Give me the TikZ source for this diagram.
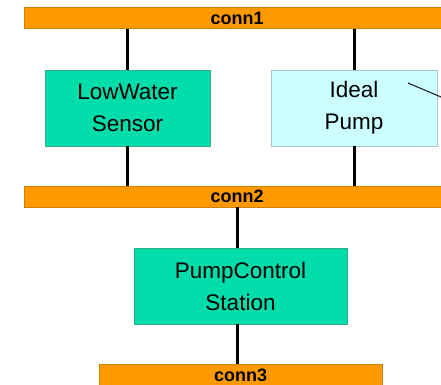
\documentclass[tikz,border=0pt]{standalone}
\usepackage{fontspec}
\setmainfont{Liberation Sans}
\usepackage{xcolor}
\usetikzlibrary{positioning}
\definecolor{busorange}{HTML}{FF9900}
\definecolor{busedge}{HTML}{D08000}
\definecolor{mint}{HTML}{00DDAA}
\definecolor{mintedge}{HTML}{33AA88}
\definecolor{paleblue}{HTML}{CCFFFF}
\definecolor{paleedge}{HTML}{A8C4CC}

\begin{document}
\begin{tikzpicture}[
  x=1pt, y=-1pt,
  bus/.style={rectangle, draw=busedge, fill=busorange, minimum width=426pt, minimum height=21pt, inner sep=0pt, font=\fontsize{18}{18}\selectfont\bfseries},
  block/.style={rectangle, draw=mintedge, fill=mint, minimum height=76pt, align=center, font=\fontsize{22.5}{32}\selectfont},
  wire/.style={line width=3pt, draw=black}
]
\useasboundingbox (0,0) rectangle (441,384);
\node[bus] (conn1) at (237,18) {conn1};
\node[block, minimum width=165pt] (sensor) at (127.5,108) {LowWater\\Sensor};
\node[block, minimum width=166pt, fill=paleblue, draw=paleedge] (pump) at (354,108) {Ideal\\Pump};
\node[bus] (conn2) at (237,196.5) {conn2};
\node[block, minimum width=213pt] (station) at (240.5,286) {PumpControl\\Station};
\node[bus, minimum width=283pt] (conn3) at (240.5,375) {conn3};
\coordinate (tail) at (408,83);
\coordinate (away) at (460,105);
\draw[wire] (conn1.south -| sensor) -- (sensor.north);
\draw[wire] (conn1.south -| pump) -- (pump.north);
\draw[wire] (sensor.south) -- (conn2.north -| sensor);
\draw[wire] (pump.south) -- (conn2.north -| pump);
\draw[wire] (conn2.south) -- (station.north -| conn2);
\draw[wire] (station.south -| conn2) -- (conn3.north -| conn2);
\draw[black!80, line width=1.2pt] (tail) -- (away);
\end{tikzpicture}
\end{document}
